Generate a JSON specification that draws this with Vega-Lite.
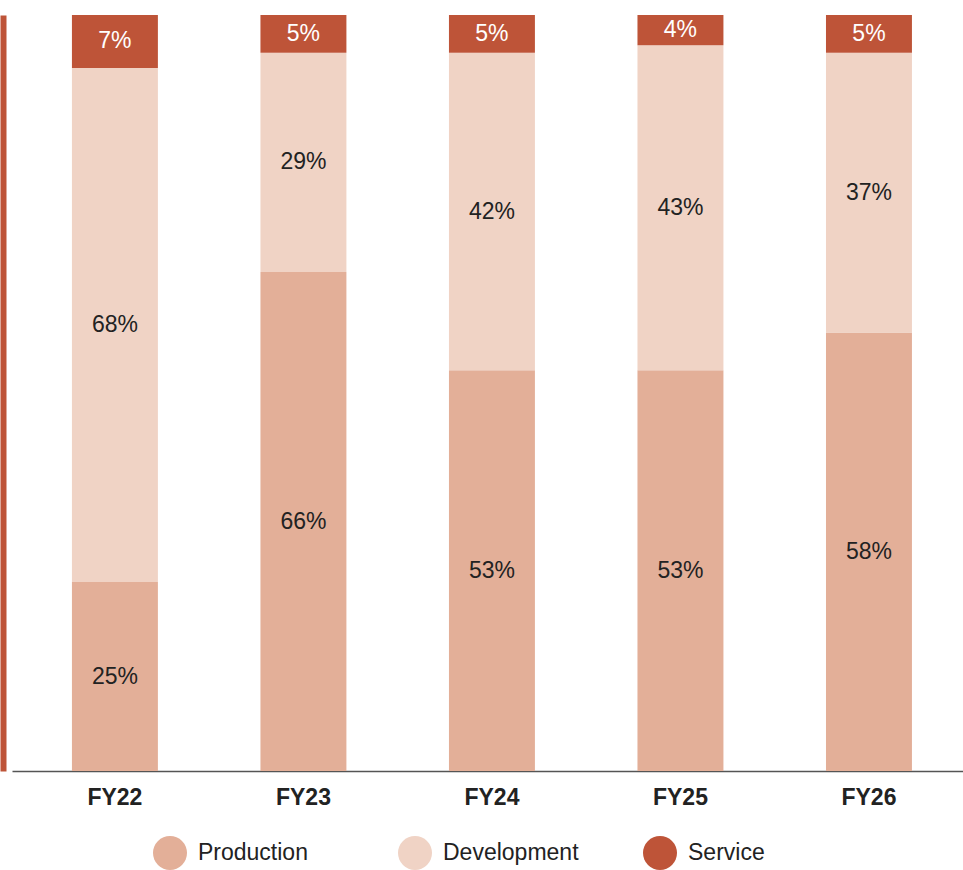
{
  "$schema": "https://vega.github.io/schema/vega-lite/v6.json",
  "width": 951,
  "height": 756,
  "autosize": {"type": "none"},
  "padding": {"left": 12, "top": 15, "right": 0, "bottom": 99},
  "config": {"view": {"stroke": null}, "font": "Liberation Sans"},
  "data": {
    "values": [
      {"year": "FY22", "segment": "Production", "value": 25},
      {"year": "FY22", "segment": "Development", "value": 68},
      {"year": "FY22", "segment": "Service", "value": 7},
      {"year": "FY23", "segment": "Production", "value": 66},
      {"year": "FY23", "segment": "Development", "value": 29},
      {"year": "FY23", "segment": "Service", "value": 5},
      {"year": "FY24", "segment": "Production", "value": 53},
      {"year": "FY24", "segment": "Development", "value": 42},
      {"year": "FY24", "segment": "Service", "value": 5},
      {"year": "FY25", "segment": "Production", "value": 53},
      {"year": "FY25", "segment": "Development", "value": 43},
      {"year": "FY25", "segment": "Service", "value": 4},
      {"year": "FY26", "segment": "Production", "value": 58},
      {"year": "FY26", "segment": "Development", "value": 37},
      {"year": "FY26", "segment": "Service", "value": 5}
    ]
  },
  "transform": [
    {"calculate": "indexof(['Production','Development','Service'], datum.segment)", "as": "ord"},
    {"stack": "value", "groupby": ["year"], "sort": [{"field": "ord", "order": "ascending"}], "as": ["v0", "v1"]},
    {"calculate": "(datum.v0 + datum.v1) / 2", "as": "mid"},
    {"calculate": "datum.value + '%'", "as": "label"}
  ],
  "encoding": {
    "x": {
      "field": "year",
      "type": "nominal",
      "scale": {"paddingInner": 0.544, "paddingOuter": 0.2944, "align": 0.54},
      "axis": {
        "title": null,
        "labelAngle": 0,
        "labelFontSize": 23,
        "labelFontWeight": "bold",
        "labelColor": "#222222",
        "labelPadding": 15,
        "ticks": false,
        "domainColor": "#555555",
        "domainWidth": 1.5
      }
    }
  },
  "layer": [
    {
      "mark": {"type": "bar"},
      "encoding": {
        "y": {
          "field": "v0",
          "type": "quantitative",
          "scale": {"domain": [0, 100], "nice": false},
          "axis": {
            "title": null,
            "labels": false,
            "ticks": false,
            "grid": false,
            "domain": true,
            "domainColor": "#BE5438",
            "domainWidth": 6,
            "offset": 9
          }
        },
        "y2": {"field": "v1"},
        "color": {
          "field": "segment",
          "type": "nominal",
          "scale": {
            "domain": ["Production", "Development", "Service"],
            "range": ["#E3AF98", "#F0D3C5", "#BE5438"]
          },
          "legend": {
            "title": null,
            "orient": "none",
            "legendX": 141,
            "legendY": 821,
            "direction": "horizontal",
            "columns": 3,
            "gridAlign": "all",
            "columnPadding": 64,
            "symbolType": "circle",
            "symbolSize": 1156,
            "symbolStrokeWidth": 0,
            "labelFontSize": 23,
            "labelColor": "#222222",
            "labelOffset": 11,
            "labelLimit": 300
          }
        }
      }
    },
    {
      "mark": {"type": "text", "fontSize": 23, "baseline": "middle"},
      "encoding": {
        "y": {"field": "mid", "type": "quantitative"},
        "text": {"field": "label"},
        "color": {
          "condition": {"test": "datum.segment === 'Service'", "value": "#FFFFFF"},
          "value": "#222222"
        }
      }
    }
  ]
}
